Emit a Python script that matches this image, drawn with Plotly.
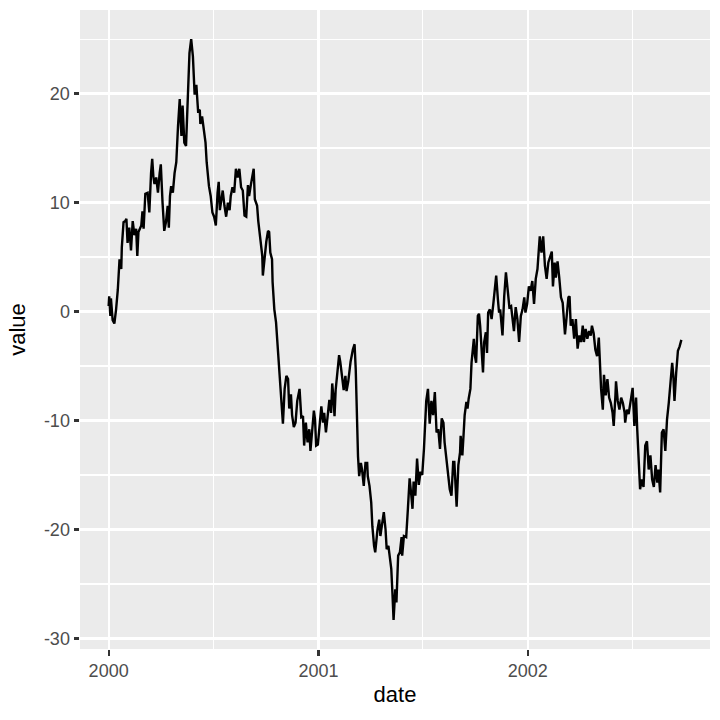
import pandas as pd
import plotly.graph_objects as go

start_date = "2000-01-01"

day_offsets = [
    0, 1, 3, 4, 7, 10, 13, 16, 19, 22, 23, 26, 29, 31, 33, 36, 39, 42, 45, 48, 50, 52, 57, 59, 61, 64, 68, 71,
    74, 76, 78, 80, 83, 86, 89, 91, 94, 97, 100, 103, 105, 107, 109, 112, 115, 118, 121, 124, 125, 127, 129,
    132, 135, 138, 141, 144, 147, 150, 153, 156, 159, 160, 163, 166, 169, 171, 175,
    178, 181, 184, 187, 190, 192, 194, 197, 199, 202, 205, 208, 211, 213, 216, 219, 222, 225, 228, 231, 234,
    237, 240, 243, 245, 248, 251, 253, 255, 259, 261, 265, 268, 269, 272, 275, 278, 280, 282, 285, 286, 289,
    292, 294, 296, 299, 302, 304, 307, 310, 313, 315, 318, 320, 323, 326, 329, 333, 336,
    339, 341, 344, 347, 350, 352, 355, 358, 360, 362, 365, 368, 371, 374, 376, 379, 382, 385, 388, 390, 392,
    394, 396, 399, 402, 404, 407, 410, 413, 415, 418, 422, 426, 429, 431, 433, 435, 437, 440, 442, 445, 448,
    451, 452, 455, 458, 460, 463, 465, 469, 472, 474, 477, 480, 483, 485, 488, 491, 493, 495, 497, 500, 502,
    505, 508, 511, 512, 515, 519, 522,
    525, 528, 530, 532, 535, 538, 541, 544, 547, 550, 553, 554, 557, 560, 563, 566, 569, 572, 575, 578, 581,
    584, 586, 589, 592, 595, 598, 601, 603, 605, 607, 610, 613, 614, 617, 619, 621, 624, 626, 628, 631, 633,
    635, 637, 639, 641, 644, 646, 648, 651, 653, 655, 658, 660, 662, 665, 668, 671, 674, 676, 679, 681, 683,
    685, 687, 690, 693, 696, 699, 702, 705, 707, 710, 713, 716, 719, 722, 725, 727, 730, 733, 736, 739, 742,
    745, 748, 750, 752, 755, 758, 761, 764, 767, 770, 773, 775, 778, 780, 783, 786, 789, 792, 794, 796, 799,
    802, 804, 806, 809, 812, 815, 818, 821, 824, 827, 829, 832, 835, 838, 841,
    843, 846, 849, 852, 855, 857, 859, 862, 864, 867, 870, 873, 876, 879, 881, 884, 885, 888, 891, 894, 897,
    900, 901, 904, 907, 910, 912, 914, 917, 920, 922, 924, 927, 930, 933, 936, 939, 942, 945, 948, 951, 954,
    957, 959, 962, 965, 968, 971, 974, 977, 980, 983, 985, 987, 990, 993, 996, 998, 999,
]

values = [
    0.5, 1.4, -0.4, 1.2, -0.8, -1.1, 0.2, 2.0, 4.8, 3.9, 5.9, 8.2, 8.3, 8.5, 6.3, 7.7, 5.6, 8.3, 7.0, 7.6, 5.1,
    7.3, 7.9, 9.2, 7.6, 10.8, 10.9, 9.1,
    12.7, 14.0, 12.4, 11.7, 12.3, 10.9, 12.7, 13.5, 10.0, 7.4, 8.2, 9.7, 7.7, 10.6, 11.5, 10.9, 12.7, 13.7,
    17.0, 19.5, 18.1, 16.1, 18.9,
    15.5, 15.2, 19.9, 23.7, 25.0, 23.4, 19.9, 20.8, 18.4, 18.5, 17.2, 17.9, 16.7, 15.5, 13.7, 11.5,
    10.6, 9.1, 8.7, 7.9, 10.9, 11.9, 9.3, 10.3, 11.1, 9.7, 8.7, 10.0, 9.3, 10.6, 11.4, 10.9, 13.1, 12.3, 13.1,
    11.4, 11.1,
    8.8, 8.7, 11.6, 10.6, 11.6, 12.8, 13.1, 10.3, 9.7, 8.3, 6.7, 5.1, 3.3, 5.1, 6.4, 7.4, 7.3, 5.4, 4.8, 2.7, 0.2,
    -1.0, -2.5, -4.0, -5.9, -8.3, -10.3, -7.1, -5.9, -6.2, -8.9, -7.6, -9.5, -10.6, -10.2, -8.2, -7.1, -9.7,
    -9.6, -12.3, -10.2, -12.0, -10.8, -12.8, -10.8, -9.1, -9.9, -12.3, -12.2, -10.2, -8.7, -10.2, -9.3, -11.1,
    -9.8, -8.1, -9.3, -6.6, -7.8,
    -9.6, -7.2, -5.6, -4.0, -4.6, -6.1, -7.2, -5.9, -7.3, -6.4, -4.6, -3.5, -3.0, -5.3, -9.9, -13.3, -15.1,
    -13.9, -14.5, -16.0, -13.9,
    -13.9, -15.1, -16.0, -17.5, -19.7, -21.5, -22.1, -20.0, -19.1, -20.6, -19.4, -18.4, -20.0, -21.8, -21.5,
    -22.7, -23.6, -25.8, -28.3, -25.5, -26.7,
    -22.4, -22.1, -20.7, -22.4, -20.6, -20.7, -18.1,
    -15.3, -16.9, -18.1, -15.6, -16.9, -13.5, -15.9, -14.7, -15.0, -12.6, -9.2, -8.2, -7.1, -10.3, -8.2, -9.5,
    -7.4, -11.1, -10.8, -12.6, -9.8,
    -10.2, -12.0, -13.5, -15.0, -16.3, -16.9, -13.8, -13.8, -16.3, -17.9, -14.1, -12.9, -11.4, -13.2, -11.4,
    -9.5, -8.3, -8.9, -8.0, -7.1, -4.7,
    -3.4, -2.5, -4.1, -4.7, -0.4, -0.2, -1.3, -3.4, -5.6, -2.8, -1.9, -3.8, -0.1, 0.2, -0.7, 0.7, 2.3, 3.3, 1.1,
    -0.1, 0.2,
    -1.0, -2.2, 1.4, 3.6, 2.0, 0.4, 0.5, -1.3, -1.8, 0.4, -0.7, -2.8, -0.4, 0.2, 1.3, -0.1, 0.7, 2.3, 1.9, 2.8,
    0.7,
    3.0, 3.9, 5.4, 6.9, 5.4, 6.9, 4.2, 3.0, 4.5, 5.1, 5.5, 2.3, 4.5, 3.1, 4.6, 3.1, 1.3, 0.8, -1.3, -2.1, -0.4,
    1.3, 1.4, -1.3, -0.7, -2.5, -0.7, -3.4, -2.2, -2.8, -1.3, -2.8, -1.6, -2.5, -1.8, -2.2,
    -1.3, -2.0, -3.5, -4.1, -2.4, -4.7, -7.1, -9.0, -5.8, -7.7, -6.2, -7.9, -8.4, -9.3, -10.5, -7.7, -6.4, -8.2,
    -9.0, -7.9, -8.4,
    -9.3, -10.2, -9.0, -9.4, -8.4, -7.7, -7.0, -10.5, -7.9, -10.8, -12.6, -16.3, -15.4, -16.1, -12.3, -11.9,
    -14.5, -13.2, -15.4, -16.1, -14.1,
    -15.7, -14.5, -16.6, -11.1, -10.8, -12.8, -9.9, -8.4, -6.7, -4.7, -5.9, -8.2, -5.6, -3.6, -3.2, -2.7, -2.6,
]

x_tick_vals = ["2000-01-01", "2001-01-01", "2002-01-01"]
x_tick_text = ["2000", "2001", "2002"]
x_minor_vals = ["2000-07-02", "2001-07-02", "2002-07-02"]
y_tick_vals = [-30, -20, -10, 0, 10, 20]
y_tick_text = ["-30", "-20", "-10", "0", "10", "20"]
y_minor_vals = [-25, -15, -5, 5, 15, 25]

t0 = pd.Timestamp(start_date)
dates = t0 + pd.to_timedelta(day_offsets, unit="D")

# ggplot-style 5% expansion
dspan = max(day_offsets) - min(day_offsets)
x_range = [t0 + pd.Timedelta(days=min(day_offsets) - 0.05 * dspan),
           t0 + pd.Timedelta(days=max(day_offsets) + 0.05 * dspan)]
vspan = max(values) - min(values)
y_range = [min(values) - 0.05 * vspan, max(values) + 0.05 * vspan]

fig = go.Figure()
fig.add_trace(go.Scatter(x=dates, y=values, mode="lines",
                         line=dict(color="black", width=2.4), hoverinfo="skip"))

font_family = "Liberation Sans, Arial, sans-serif"
fig.update_layout(
    width=720, height=720,
    margin=dict(l=80, r=10, t=10, b=71),
    plot_bgcolor="#EBEBEB", paper_bgcolor="white",
    showlegend=False,
    font=dict(family=font_family),
)
fig.update_xaxes(
    type="date", range=x_range,
    tickmode="array", tickvals=x_tick_vals, ticktext=x_tick_text,
    showgrid=True, gridcolor="white", gridwidth=2.2,
    ticks="outside", ticklen=5.5, tickwidth=2.2, tickcolor="#333333",
    tickfont=dict(size=18, color="#4D4D4D", family=font_family),
    zeroline=False, showline=False, automargin=False,
    minor=dict(tickmode="array", tickvals=x_minor_vals, showgrid=True,
               gridcolor="white", gridwidth=1.1, ticks=""),
    title=dict(text="date", font=dict(size=22, color="black", family=font_family), standoff=6),
)
fig.update_yaxes(
    range=y_range,
    tickmode="array", tickvals=y_tick_vals, ticktext=y_tick_text,
    showgrid=True, gridcolor="white", gridwidth=2.2,
    ticks="outside", ticklen=5.5, tickwidth=2.2, tickcolor="#333333",
    tickfont=dict(size=18, color="#4D4D4D", family=font_family),
    zeroline=False, showline=False, automargin=False,
    minor=dict(tickmode="array", tickvals=y_minor_vals, showgrid=True,
               gridcolor="white", gridwidth=1.1, ticks=""),
    title=dict(text="value", font=dict(size=22, color="black", family=font_family), standoff=12),
)

fig.write_html("out.html",
               config={"displayModeBar": False, "staticPlot": True},
               post_script="document.body.style.margin='0px';document.body.style.padding='0px';")
